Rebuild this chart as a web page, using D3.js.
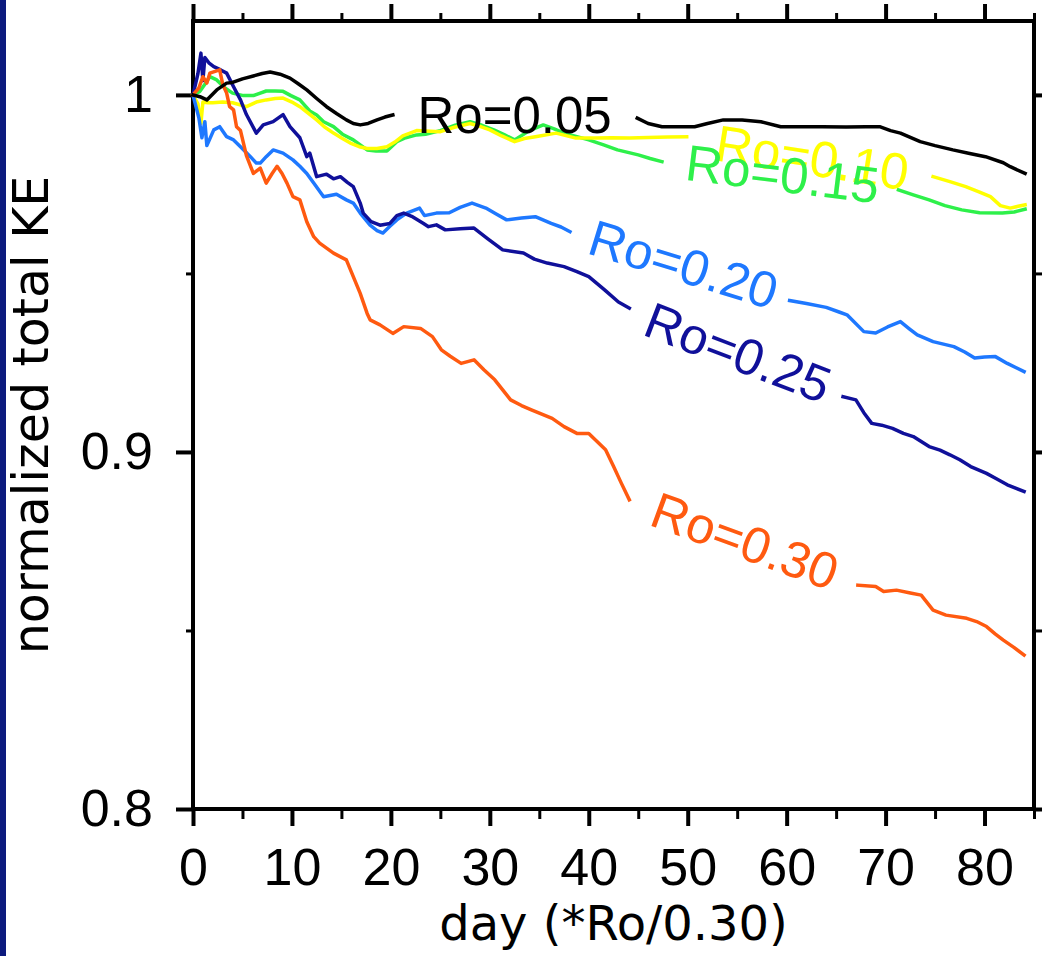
<!DOCTYPE html>
<html>
<head>
<meta charset="utf-8">
<script src="https://cdn.jsdelivr.net/npm/d3@7"></script>
<style>
  html, body { margin: 0; padding: 0; background: #ffffff; }
  svg { display: block; }
</style>
</head>
<body>
<svg id="chart" width="1042" height="956"></svg>
<script>
// ---------------- data (day, normalized total KE) ----------------
const seriesNames = ["Ro=0.05", "Ro=0.10", "Ro=0.15", "Ro=0.20", "Ro=0.25", "Ro=0.30"];

const ro005 = [[0,1.0],[0.7,0.9995],[1.4,0.9986],[2.4,1.0014],[3.4,1.0033],[4.0,1.0035],[5.0,1.0045],[6.1,1.0053],[7.0,1.006],[7.8,1.0064],[8.8,1.0058],[9.8,1.0047],[10.6,1.0032],[11.5,1.0014],[12.5,0.999],[13.5,0.9967],[14.5,0.9948],[15.5,0.993],[16.2,0.992],[16.9,0.9916],[17.7,0.992],[18.6,0.993],[19.4,0.9938],[20.2,0.9944],
  [44.9,0.9935],[46,0.992],[47.4,0.9911],[49,0.9911],[50.7,0.9911],[52,0.992],[53.6,0.993],[55.5,0.993],[57.4,0.9925],[59.4,0.9911],[61.5,0.9911],[63.6,0.9911],[66,0.991],[68,0.9911],[69.4,0.9911],[70.5,0.99],[71.5,0.9893],[73.5,0.9869],[75,0.9858],[76.8,0.9846],[78.5,0.9836],[80.1,0.9827],[81.9,0.981],[82.6,0.9799],[84.1,0.978]];

const ro010 = [[0,1.0],[0.5,0.9975],[0.8,0.992],[1.0,0.998],[1.5,0.9978],[2,0.9978],[3,0.998],[4,0.9978],[5.4,0.9967],[6.4,0.998],[7.4,0.9986],[8.3,0.999],[9.1,0.9991],[10.0,0.998],[10.8,0.9967],[11.6,0.995],[12.5,0.993],[13.3,0.991],[14.2,0.9893],[15.1,0.9878],[15.9,0.9865],[16.8,0.9855],[17.6,0.985],[18.6,0.985],[19.6,0.9855],[20.4,0.9868],[21.2,0.9885],[22.6,0.99],[24,0.9898],[25,0.9897],[26.5,0.991],[28,0.992],[29,0.9912],[30,0.9902],[31.2,0.9885],[32.5,0.9869],[33.5,0.9878],[34.6,0.9883],[36.7,0.9893],[38.7,0.9879],[40.5,0.9879],[42.3,0.988],[44.1,0.9879],[46,0.9881],[48,0.9882],[49.9,0.9883],
  [74.8,0.9771],[76.5,0.9757],[78.1,0.9743],[79.5,0.9728],[80.6,0.9715],[81.6,0.969],[82.6,0.9683],[83.4,0.9688],[84.1,0.9692]];

const ro015 = [[0,1.0],[0.7,1.001],[1.2,1.003],[1.7,1.0051],[2.4,1.0042],[3.2,1.002],[4,1.0005],[5.1,0.9998],[6.1,0.9998],[6.8,1.0005],[7.4,1.0011],[8.3,1.0011],[9.1,1.001],[9.9,0.9998],[10.8,0.9986],[11.8,0.9955],[12.5,0.9944],[13.2,0.9925],[14.2,0.9911],[15.1,0.989],[16.2,0.9874],[17.6,0.9846],[18.5,0.9843],[19.6,0.9843],[20.6,0.9869],[21.5,0.988],[22.6,0.9888],[23.5,0.989],[25,0.99],[26.5,0.9915],[28,0.9925],[29.2,0.9915],[30.4,0.9902],[31.5,0.9888],[32.5,0.9874],[34,0.99],[35.4,0.9916],[36.5,0.9905],[37.5,0.9893],[38.8,0.9883],[40,0.9874],[41.5,0.986],[42.9,0.9846],[45,0.9832],[46.2,0.9822],[47.4,0.9813],
  [71.3,0.9734],[72.8,0.972],[74.4,0.9706],[76,0.969],[77.7,0.9678],[79.5,0.967],[81.8,0.9669],[83,0.9672],[84.1,0.968]];

const ro020 = [[0,1.0],[0.6,0.9935],[0.9,0.988],[1.2,0.9925],[1.4,0.9858],[2.1,0.9902],[2.7,0.9911],[3.4,0.9883],[4.1,0.9874],[4.8,0.9855],[5.8,0.9827],[6.4,0.9809],[6.8,0.9809],[7.4,0.9827],[8.1,0.9846],[9.1,0.9837],[10.1,0.9818],[10.8,0.98],[11.5,0.978],[12.2,0.9753],[13.2,0.9715],[14.5,0.9722],[15.5,0.9706],[16.2,0.9697],[16.9,0.9669],[17.9,0.9635],[18.6,0.962],[19.2,0.9613],[19.9,0.9632],[20.6,0.965],[21.6,0.9669],[22.9,0.9683],[23.4,0.9662],[24.6,0.9669],[25.9,0.967],[27,0.9685],[28.2,0.9697],[29.6,0.9683],[30.6,0.9667],[31.7,0.965],[33.2,0.9655],[34.6,0.9659],[36.2,0.964],[37.2,0.963],[38.1,0.9617],
  [60.3,0.9424],[62,0.9416],[64,0.9405],[65.3,0.9392],[66.1,0.9384],[67.8,0.9337],[69,0.9333],[70.2,0.935],[71.5,0.9365],[72.4,0.9345],[73.2,0.9328],[74.8,0.9309],[76.9,0.9295],[78,0.928],[79,0.9263],[80,0.9266],[81.1,0.9267],[82.3,0.9248],[84,0.9225]];

const ro025 = [[0,1.0],[0.5,1.006],[0.8,1.0117],[1.0,1.004],[1.2,1.0105],[1.6,1.009],[2.1,1.0079],[2.8,1.007],[3.4,1.0061],[4.1,1.0023],[4.8,0.9986],[5.4,0.9945],[6.4,0.9893],[7.1,0.9916],[8.1,0.9925],[9.1,0.9945],[9.8,0.9911],[10.8,0.988],[11.5,0.9827],[11.8,0.9837],[12.5,0.9771],[13.5,0.9778],[14.2,0.9765],[14.9,0.9771],[15.6,0.9755],[16.2,0.9743],[16.9,0.9697],[17.2,0.9669],[18,0.9645],[18.9,0.9635],[19.9,0.964],[20.6,0.9662],[21.3,0.9669],[22.1,0.966],[23.3,0.964],[23.8,0.9631],[24.6,0.9636],[25.5,0.9622],[27,0.9625],[28.4,0.9627],[29.8,0.9597],[31.3,0.9566],[33.4,0.9557],[34.5,0.954],[35.8,0.9529],[37.5,0.9519],[38.8,0.9505],[40,0.9491],[41.6,0.9454],[43,0.942],[44.1,0.9403],
  [65.7,0.9155],[67,0.9146],[67.8,0.911],[68.6,0.908],[69.6,0.9075],[70.7,0.9066],[71.8,0.9052],[72.8,0.9043],[74.4,0.9015],[75.5,0.9005],[76.5,0.8992],[77.5,0.8978],[78.6,0.8959],[80.2,0.894],[81.2,0.8925],[82.3,0.8908],[83.2,0.8898],[84,0.8889]];

const ro030 = [[0,1.0],[0.6,1.002],[1.0,1.0051],[1.4,1.0033],[1.7,1.0061],[2.7,1.007],[3.0,1.003],[3.4,1.0005],[3.7,0.9967],[4.1,0.9958],[4.4,0.9911],[4.8,0.99],[5.4,0.983],[6.1,0.978],[6.8,0.9795],[7.4,0.9753],[8.0,0.978],[8.5,0.98],[9.0,0.978],[9.5,0.9753],[10.1,0.9715],[10.8,0.9706],[11.5,0.9645],[12.2,0.9603],[12.8,0.9585],[14.2,0.9557],[15.5,0.9538],[16.2,0.9491],[16.9,0.9444],[17.6,0.9388],[17.9,0.937],[18.9,0.9356],[20.2,0.9332],[21.3,0.9351],[23,0.9346],[24.2,0.9323],[25.1,0.9286],[26,0.9268],[27.1,0.9248],[28.4,0.9258],[29.4,0.923],[30.5,0.9202],[32.1,0.9146],[33.2,0.913],[34.2,0.9118],[36.3,0.9094],[37.5,0.9071],[38.8,0.9052],[40,0.9052],[41.7,0.9006],[42.5,0.896],[43.3,0.8912],[44.1,0.8866],
  [67.2,0.8627],[69,0.8623],[69.8,0.8609],[71.1,0.8613],[72.5,0.8605],[73.6,0.8599],[74.8,0.8557],[76.1,0.8543],[78.2,0.8534],[79.2,0.8525],[80.2,0.8511],[81.1,0.849],[81.9,0.8473],[83,0.8452],[84,0.8431]];

// gaps in each curve where its inline label sits (day ranges)
const labelGaps = [[20.5,44.7],[50.2,74.5],[47.6,71.1],[38.3,60.1],[44.3,65.5],[44.3,67.0]];
// inline label anchors (day, KE) and tilt in degrees
const labelDay   = [32.5, 62.6, 59.6, 49.6, 55.1, 55.8];
const labelKE    = [0.9944, 0.9826, 0.978, 0.9527, 0.928, 0.8752];
const labelTilt  = [0, 9, 7, 17, 21, 20];

const xMajorTicks = [0,10,20,30,40,50,60,70,80];
const xMinorTicks = [5,15,25,35,45,55,65,75,85];
const yMajorTicks = [0.8,0.9,1.0];
const yMinorTicks = [0.85,0.95];
const xTitle = "day (*Ro/0.30)";
const yTitle = "normalized total KE";

// ---------------- drawing ----------------
const colors = ["#000000", "#ffff00", "#2ef04a", "#1e78ff", "#10109a", "#ff5a10"];
const allSeries = [ro005, ro010, ro015, ro020, ro025, ro030];
const drawOrder = [2, 1, 3, 4, 5, 0];

const svg = d3.select("#chart");
const L = 193, R = 1034, T = 21, B = 809;
const x = d3.scaleLinear().domain([0, 85]).range([L, R]);
const y = d3.scaleLinear().domain([0.8, 1.0207]).range([B, T]);

svg.append("rect").attr("width", 1042).attr("height", 956).attr("fill", "#ffffff");
svg.append("rect").attr("x", 0).attr("y", 0).attr("width", 6).attr("height", 956).attr("fill", "#0c1a7e");

const tickFont = "'Liberation Sans', Arial, sans-serif";

function styleAxis(g, w) {
  g.select(".domain").remove();
  g.selectAll(".tick line").attr("stroke", "#000").attr("stroke-width", w);
  g.selectAll("text").attr("font-family", tickFont).attr("font-size", 52).attr("fill", "#000");
}

// bottom
svg.append("g").attr("transform", `translate(0,${B})`)
  .call(d3.axisBottom(x).tickValues(xMajorTicks).tickSize(17).tickSizeOuter(0).tickPadding(22).tickFormat(d3.format("d")))
  .call(g => styleAxis(g, 4));
svg.append("g").attr("transform", `translate(0,${B})`)
  .call(d3.axisBottom(x).tickValues(xMinorTicks).tickSize(10).tickSizeOuter(0).tickFormat(""))
  .call(g => styleAxis(g, 3));
// top
svg.append("g").attr("transform", `translate(0,${T})`)
  .call(d3.axisTop(x).tickValues(xMajorTicks).tickSize(17).tickSizeOuter(0).tickFormat(""))
  .call(g => styleAxis(g, 4));
svg.append("g").attr("transform", `translate(0,${T})`)
  .call(d3.axisTop(x).tickValues(xMinorTicks).tickSize(8).tickSizeOuter(0).tickFormat(""))
  .call(g => styleAxis(g, 3));
// left
svg.append("g").attr("transform", `translate(${L},0)`)
  .call(d3.axisLeft(y).tickValues(yMajorTicks).tickSize(17).tickSizeOuter(0).tickPadding(23)
    .tickFormat(d => d === 1 ? "1" : d3.format(".1f")(d)))
  .call(g => styleAxis(g, 4));
svg.append("g").attr("transform", `translate(${L},0)`)
  .call(d3.axisLeft(y).tickValues(yMinorTicks).tickSize(7).tickSizeOuter(0).tickFormat(""))
  .call(g => styleAxis(g, 3));
// right
svg.append("g").attr("transform", `translate(${R},0)`)
  .call(d3.axisRight(y).tickValues(yMajorTicks).tickSize(17).tickSizeOuter(0).tickFormat(""))
  .call(g => styleAxis(g, 4));
svg.append("g").attr("transform", `translate(${R},0)`)
  .call(d3.axisRight(y).tickValues(yMinorTicks).tickSize(8).tickSizeOuter(0).tickFormat(""))
  .call(g => styleAxis(g, 3));

// frame
svg.append("rect").attr("x", L).attr("y", T).attr("width", R - L).attr("height", B - T)
  .attr("fill", "none").attr("stroke", "#000").attr("stroke-width", 4);

// curves, broken where the inline label sits
const plot = svg.append("g");
const line = d3.line().x(d => x(d[0])).y(d => y(d[1]));
drawOrder.forEach(i => {
  const gap = labelGaps[i];
  const pieces = [
    allSeries[i].filter(d => d[0] <= gap[0]),
    allSeries[i].filter(d => d[0] >= gap[1])
  ];
  pieces.forEach(p => {
    plot.append("path").datum(p)
      .attr("d", line)
      .attr("fill", "none")
      .attr("stroke", colors[i])
      .attr("stroke-width", 3.5)
      .attr("stroke-linejoin", "round")
      .attr("stroke-linecap", "square");
  });
});

// inline labels
seriesNames.forEach((name, i) => {
  svg.append("text")
    .attr("transform", `translate(${x(labelDay[i])},${y(labelKE[i])}) rotate(${labelTilt[i]})`)
    .attr("text-anchor", "middle")
    .attr("dy", "0.36em")
    .attr("font-family", tickFont)
    .attr("font-size", 51)
    .attr("fill", colors[i])
    .text(name);
});

// titles
svg.append("text")
  .attr("x", (L + R) / 2).attr("y", 940)
  .attr("text-anchor", "middle")
  .attr("font-family", "'DejaVu Sans', sans-serif")
  .attr("font-size", 48)
  .attr("fill", "#000")
  .text(xTitle);
svg.append("text")
  .attr("transform", `translate(48,${(T + B) / 2}) rotate(-90)`)
  .attr("text-anchor", "middle")
  .attr("font-family", "'DejaVu Sans', sans-serif")
  .attr("font-size", 49)
  .attr("fill", "#000")
  .text(yTitle);
</script>
</body>
</html>
